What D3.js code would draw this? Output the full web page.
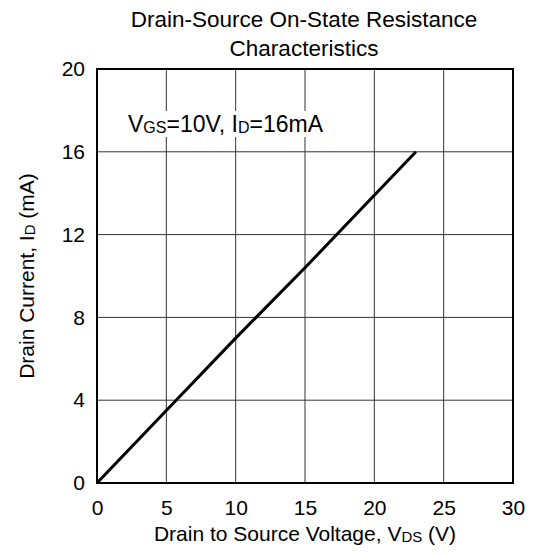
<!DOCTYPE html>
<html>
<head>
<meta charset="utf-8">
<script src="https://cdn.jsdelivr.net/npm/d3@7"></script>
<style>
  body { margin: 0; background: #fff; }
  text { font-family: "Liberation Sans", Arial, sans-serif; fill: #000; }
</style>
</head>
<body>
<div id="chart"></div>
<script>
// values
const vdsValues = [0, 5, 10, 15, 20, 23];
const idValues = [0, 3.5, 7, 10.4, 13.9, 16];
const xTicks = [0, 5, 10, 15, 20, 25, 30];
const yTicks = [0, 4, 8, 12, 16, 20];

const W = 534, H = 556;
const margin = {left: 97, right: 21, top: 69, bottom: 73};
const w = W - margin.left - margin.right;
const h = H - margin.top - margin.bottom;

const svg = d3.select("#chart").append("svg")
    .attr("width", W)
    .attr("height", H);

const xScale = d3.scaleLinear().domain([0, 30]).range([margin.left, margin.left + w]);
const yScale = d3.scaleLinear().domain([0, 20]).range([margin.top + h, margin.top]);

// grid
svg.append("g")
    .selectAll("line")
    .data(xTicks.slice(1, -1))
    .enter().append("line")
    .attr("x1", d => xScale(d)).attr("x2", d => xScale(d))
    .attr("y1", margin.top).attr("y2", margin.top + h)
    .attr("stroke", "#333").attr("stroke-width", 1);
svg.append("g")
    .selectAll("line")
    .data(yTicks.slice(1, -1))
    .enter().append("line")
    .attr("y1", d => yScale(d)).attr("y2", d => yScale(d))
    .attr("x1", margin.left).attr("x2", margin.left + w)
    .attr("stroke", "#333").attr("stroke-width", 1);

// axes (labels only, the frame is drawn below)
const xAxis = d3.axisBottom(xScale).tickValues(xTicks).tickSize(0).tickPadding(17);
const yAxis = d3.axisLeft(yScale).tickValues(yTicks).tickSize(0).tickPadding(12);
const gx = svg.append("g")
    .attr("transform", "translate(0," + (margin.top + h) + ")")
    .call(xAxis);
const gy = svg.append("g")
    .attr("transform", "translate(" + margin.left + ",0)")
    .call(yAxis);
[gx, gy].forEach(g => {
    g.select(".domain").remove();
    g.selectAll("text").attr("font-size", "21px").attr("font-family", "Liberation Sans, Arial, sans-serif").attr("fill", "#000");
});

// annotation with white box behind it
const noteBg = svg.append("rect").attr("fill", "#fff");
const note = svg.append("text")
    .attr("x", 128).attr("y", 132)
    .attr("font-size", "23px");
note.append("tspan").text("V");
note.append("tspan").attr("font-size", "16px").attr("dy", 1).text("GS");
note.append("tspan").attr("dy", -1).text("=10V, I");
note.append("tspan").attr("font-size", "16px").attr("dy", 1).text("D");
note.append("tspan").attr("dy", -1).text("=16mA");
const bb = note.node().getBBox();
noteBg.attr("x", bb.x - 1).attr("y", bb.y)
    .attr("width", bb.width + 2).attr("height", bb.height);

// curve
const line = d3.line()
    .x((d, i) => xScale(vdsValues[i]))
    .y(d => yScale(d));
svg.append("path")
    .datum(idValues)
    .attr("d", line)
    .attr("fill", "none")
    .attr("stroke", "#000")
    .attr("stroke-width", 3);

// frame
svg.append("rect")
    .attr("x", margin.left).attr("y", margin.top)
    .attr("width", w).attr("height", h)
    .attr("fill", "none")
    .attr("stroke", "#000")
    .attr("stroke-width", 2);

// titles
svg.append("text")
    .attr("x", 304).attr("y", 27)
    .attr("text-anchor", "middle")
    .attr("font-size", "22.5px")
    .text("Drain-Source On-State Resistance");
svg.append("text")
    .attr("x", 304).attr("y", 56)
    .attr("text-anchor", "middle")
    .attr("font-size", "22.5px")
    .text("Characteristics");

const xl = svg.append("text")
    .attr("x", 305).attr("y", 541)
    .attr("text-anchor", "middle")
    .attr("font-size", "21px");
xl.append("tspan").text("Drain to Source Voltage, V");
xl.append("tspan").attr("font-size", "15px").attr("dy", 1).text("DS");
xl.append("tspan").attr("dy", -1).text(" (V)");

const yl = svg.append("text")
    .attr("transform", "translate(34," + (margin.top + h / 2) + ") rotate(-90)")
    .attr("text-anchor", "middle")
    .attr("font-size", "21px");
yl.append("tspan").text("Drain Current, I");
yl.append("tspan").attr("font-size", "15px").attr("dy", 1).text("D");
yl.append("tspan").attr("dy", -1).text(" (mA)");
</script>
</body>
</html>
